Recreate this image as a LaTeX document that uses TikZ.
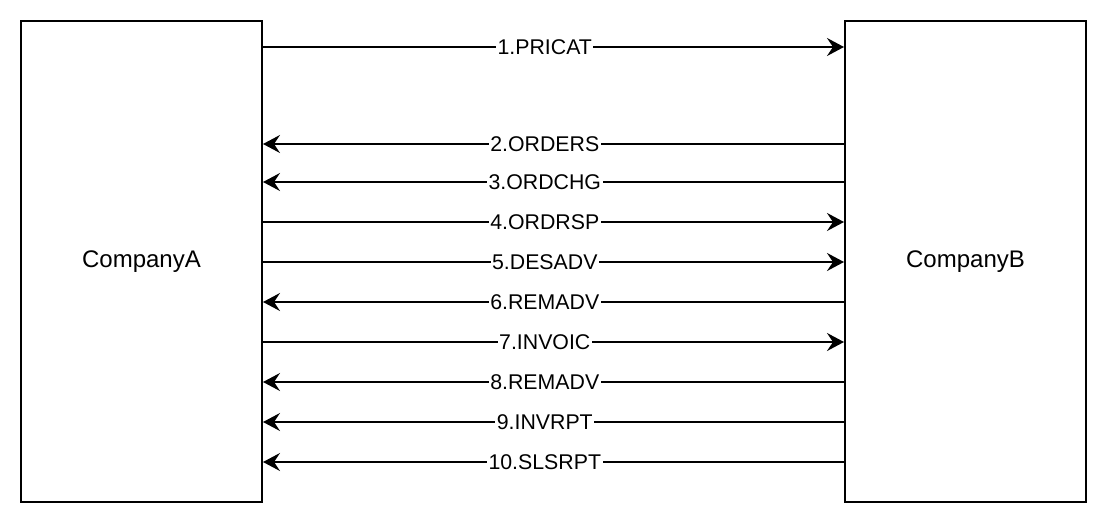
\documentclass[tikz,border=0pt]{standalone}
\usepackage{fontspec}
\setmainfont{Liberation Sans}
\usetikzlibrary{arrows.meta}

\begin{document}
\begin{tikzpicture}[x=1pt,y=-1pt,
		company/.style={draw,line width=2pt,minimum width=241pt,minimum height=481pt,font=\fontsize{24}{28}\selectfont},
		msg/.style={line width=1.8pt,-{Stealth[length=17pt,width=18pt,inset=6pt]}},
		lbl/.style={fill=white,inner xsep=1.5pt,inner ysep=1pt,font=\fontsize{21.3}{25}\selectfont}]
		\useasboundingbox (0,0) rectangle (1107,524);
		\node[company] (A) at (141.5,261.5) {CompanyA};
		\node[company] (B) at (965.5,261.5) {CompanyB};
		% messages from A to B
		\draw[msg] (A.east |- 0,47) -- node[lbl,pos=0.485] {1.PRICAT} (B.west |- 0,47);
		\draw[msg] (A.east |- 0,222) -- node[lbl,pos=0.485] {4.ORDRSP} (B.west |- 0,222);
		\draw[msg] (A.east |- 0,262) -- node[lbl,pos=0.485] {5.DESADV} (B.west |- 0,262);
		\draw[msg] (A.east |- 0,342) -- node[lbl,pos=0.485] {7.INVOIC} (B.west |- 0,342);
		% messages from B to A
		\draw[msg] (B.west |- 0,144) -- node[lbl,pos=0.515] {2.ORDERS} (A.east |- 0,144);
		\draw[msg] (B.west |- 0,182) -- node[lbl,pos=0.515] {3.ORDCHG} (A.east |- 0,182);
		\draw[msg] (B.west |- 0,302) -- node[lbl,pos=0.515] {6.REMADV} (A.east |- 0,302);
		\draw[msg] (B.west |- 0,382) -- node[lbl,pos=0.515] {8.REMADV} (A.east |- 0,382);
		\draw[msg] (B.west |- 0,422) -- node[lbl,pos=0.515] {9.INVRPT} (A.east |- 0,422);
		\draw[msg] (B.west |- 0,462) -- node[lbl,pos=0.515] {10.SLSRPT} (A.east |- 0,462);
	\end{tikzpicture}
\end{document}
